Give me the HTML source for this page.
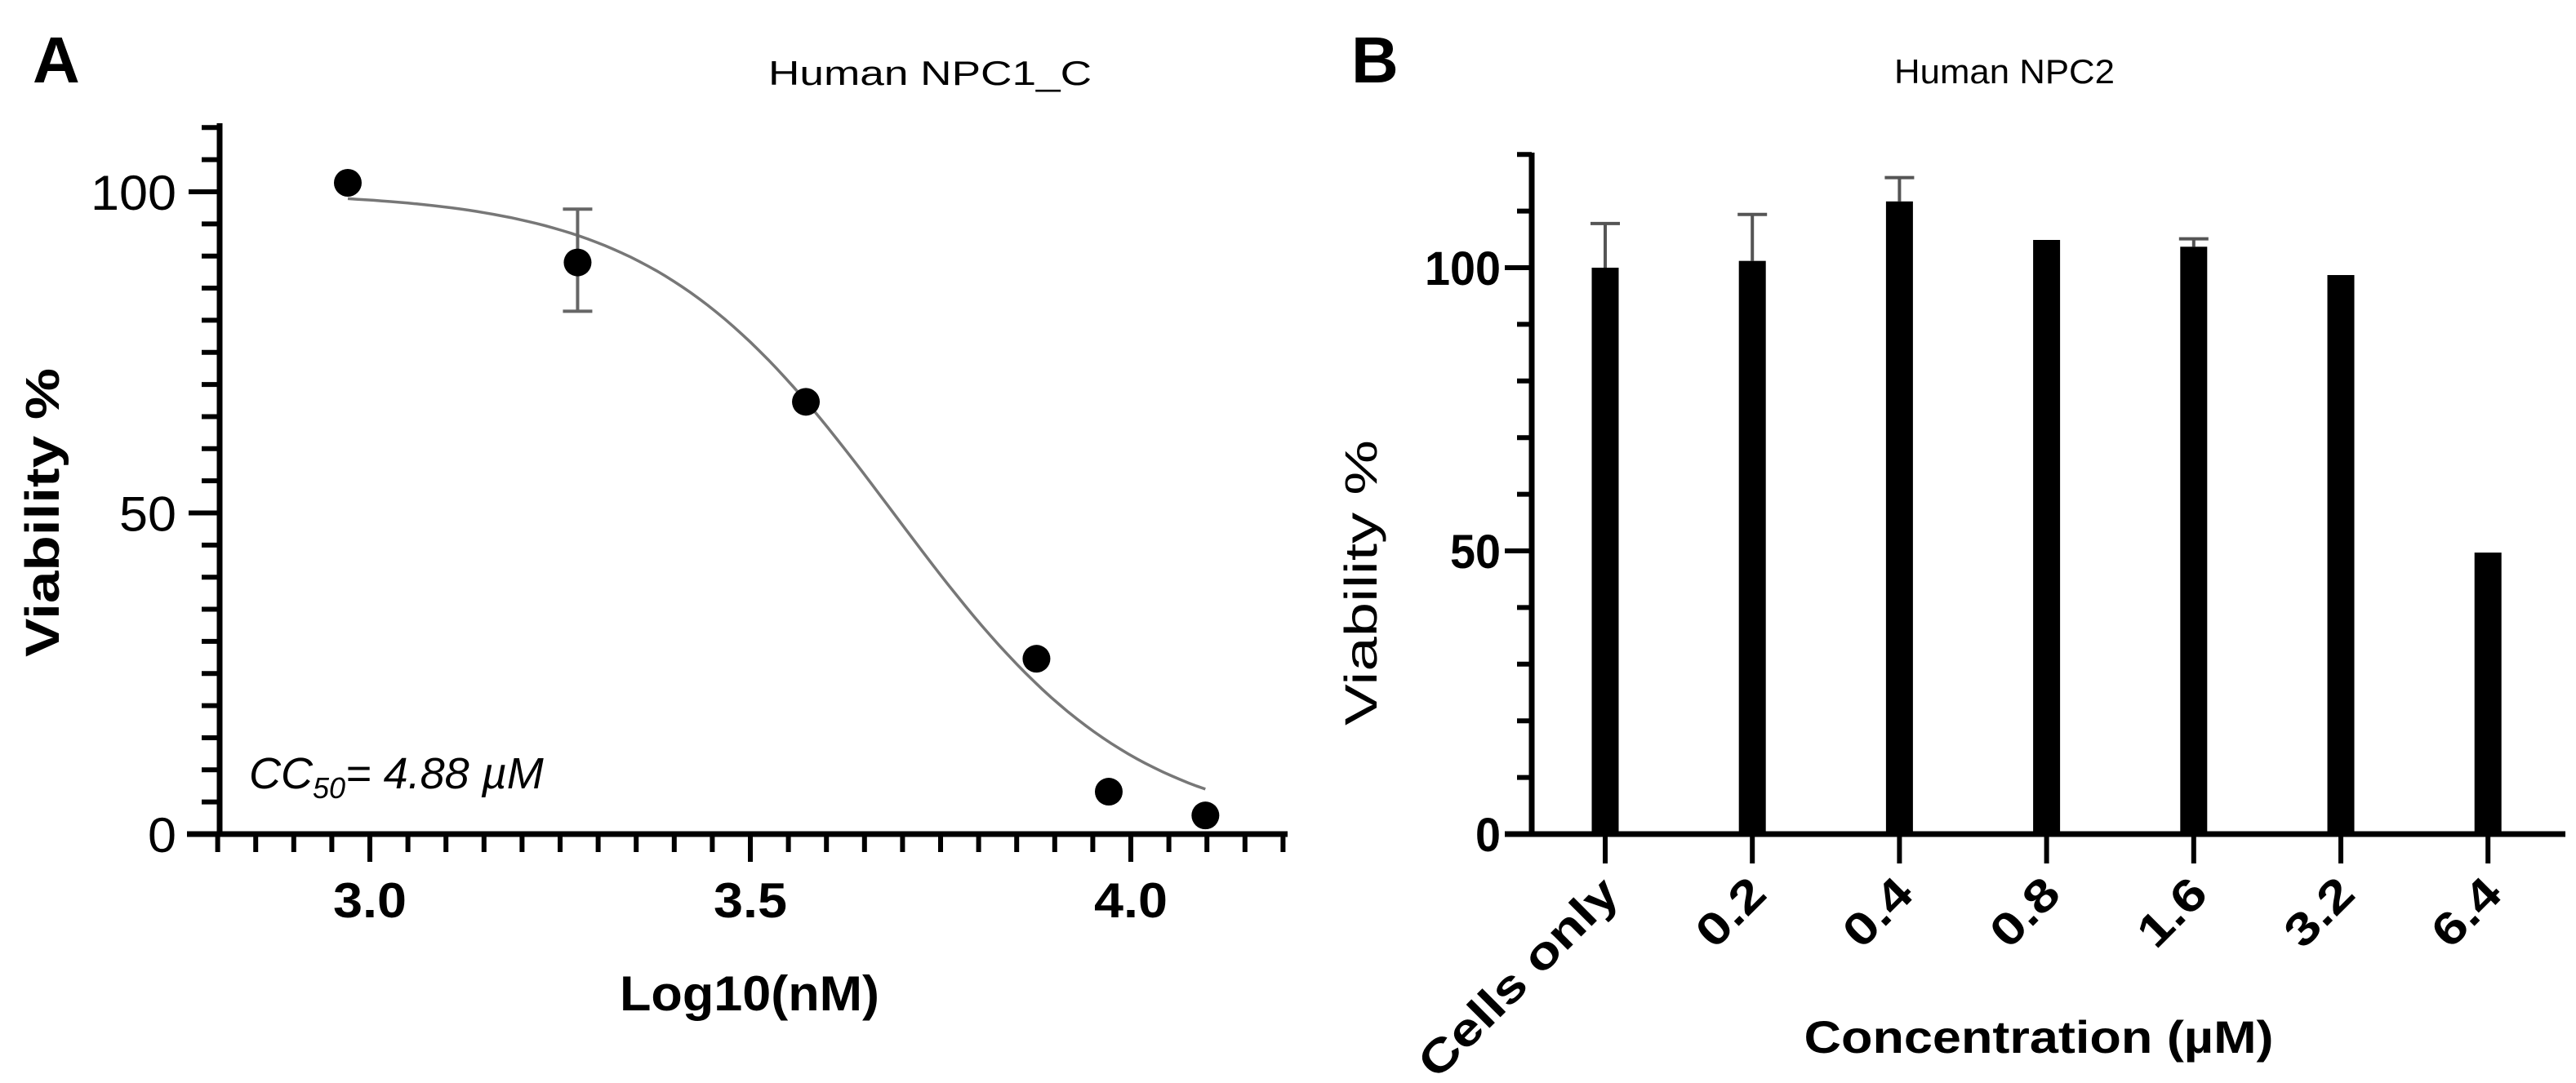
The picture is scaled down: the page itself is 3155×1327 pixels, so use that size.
<!DOCTYPE html>
<html><head><meta charset="utf-8"><style>
html,body{margin:0;padding:0;background:#fff;overflow:hidden}
svg{display:block}
text{font-family:"Liberation Sans",Arial,sans-serif;fill:#000}
</style></head><body>
<svg id="fig" width="3155" height="1327" viewBox="0 0 3155 1327" xmlns="http://www.w3.org/2000/svg">
<g id="panelA"></g>
<g id="panelB"></g>
</svg>
<script>
// Panel A data
const aX = [2.971, 3.273, 3.573, 3.876, 3.971, 4.098];
const aY = [101.4, 89.0, 67.3, 27.3, 6.6, 2.9];
const aErrLo = [null, 81.4, null, null, null, null];
const aErrHi = [null, 97.3, null, null, null, null];
const aXTicks = [3.0, 3.5, 4.0];
const aXTickLabels = ["3.0", "3.5", "4.0"];
const aYTicks = [0, 50, 100];
const aYTickLabels = ["0", "50", "100"];
const fitTop = 100, fitBottom = 0, fitLogIC50 = 3.688, fitHill = 2.74;
// Panel B data
const bCats = ["Cells only", "0.2", "0.4", "0.8", "1.6", "3.2", "6.4"];
const bVals = [100.0, 101.2, 111.7, 104.9, 103.7, 98.7, 49.7];
const bErrHi = [107.8, 109.4, 115.9, null, 105.1, null, null];
const bYTicks = [0, 50, 100];
const bYTickLabels = ["0", "50", "100"];

const NS = "http://www.w3.org/2000/svg";
function mk(parent, tag, attrs, txt) {
  const e = document.createElementNS(NS, tag);
  for (const k in attrs) e.setAttribute(k, attrs[k]);
  if (txt !== undefined) e.textContent = txt;
  parent.appendChild(e);
  return e;
}

// ---------- Panel A ----------
const A = document.getElementById('panelA');
const ax = v => 453 + (v - 3.0) * 932;
const ay = v => 1022 - v * 7.87;
let t;
t = mk(A, 'text', {x: 40, y: 101, 'font-size': 80, 'font-weight': 'bold'}, 'A');


t = mk(A, 'text', {x: 1139, y: 104, 'font-size': 42, 'text-anchor': 'middle', textLength: 396, lengthAdjust: 'spacingAndGlyphs'}, 'Human NPC1_C');


t = mk(A, 'line', {x1: 269, y1: 151, x2: 269, y2: 1025, stroke: '#000', 'stroke-width': 7});


t = mk(A, 'line', {x1: 229, y1: 1022, x2: 1577, y2: 1022, stroke: '#000', 'stroke-width': 7});


for (let v = 0; v <= 110.01; v += 5) {
  const major = Math.abs(v % 50) < 0.01;
  t = mk(A, 'line', {x1: major ? 231 : 247, y1: ay(v), x2: 269, y2: ay(v), stroke: '#000', 'stroke-width': 6});
  
  
}
for (let i = 0; i <= 28; i++) {
  const v = 2.8 + i * 0.05;
  if (v > 4.21) break;
  const major = aXTicks.some(m => Math.abs(m - v) < 0.001);
  t = mk(A, 'line', {x1: ax(v), y1: 1022, x2: ax(v), y2: major ? 1056 : 1044, stroke: '#000', 'stroke-width': 6});
  
  
}
aYTicks.forEach((v, i) => {
  const lab = aYTickLabels[i];
  t = mk(A, 'text', {x: 216, y: ay(v) + 22, 'font-size': 60, 'text-anchor': 'end', textLength: lab.length * 35, lengthAdjust: 'spacingAndGlyphs'}, lab);
  
  
});
aXTicks.forEach((v, i) => {
  t = mk(A, 'text', {x: ax(v), y: 1124, 'font-size': 60, 'font-weight': 'bold', 'text-anchor': 'middle', textLength: 90, lengthAdjust: 'spacingAndGlyphs'}, aXTickLabels[i]);
  
  
});
t = mk(A, 'text', {x: 0, y: 0, 'font-size': 58, 'font-weight': 'bold', 'text-anchor': 'middle', textLength: 354, lengthAdjust: 'spacingAndGlyphs', transform: 'translate(72,628) rotate(-90)'}, 'Viability %');


t = mk(A, 'text', {x: 918, y: 1238, 'font-size': 60, 'font-weight': 'bold', 'text-anchor': 'middle', textLength: 318, lengthAdjust: 'spacingAndGlyphs'}, 'Log10(nM)');


let d = '';
for (let i = 0; i <= 100; i++) {
  const xv = aX[0] + (aX[aX.length - 1] - aX[0]) * i / 100;
  const yv = fitBottom + (fitTop - fitBottom) / (1 + Math.pow(10, fitHill * (xv - fitLogIC50)));
  d += (i ? 'L' : 'M') + ax(xv).toFixed(1) + ',' + ay(yv).toFixed(1);
}
t = mk(A, 'path', {d: d, fill: 'none', stroke: '#777', 'stroke-width': 3.5});


aX.forEach((xv, i) => {
  if (aErrLo[i] !== null) {
    const g = mk(A, 'g', {stroke: '#666', 'stroke-width': 4});
    
    
    mk(g, 'line', {x1: ax(xv), y1: ay(aErrHi[i]), x2: ax(xv), y2: ay(aErrLo[i])});
    mk(g, 'line', {x1: ax(xv) - 18, y1: ay(aErrHi[i]), x2: ax(xv) + 18, y2: ay(aErrHi[i])});
    mk(g, 'line', {x1: ax(xv) - 18, y1: ay(aErrLo[i]), x2: ax(xv) + 18, y2: ay(aErrLo[i])});
  }
  t = mk(A, 'circle', {cx: ax(xv), cy: ay(aY[i]), r: 17, fill: '#000'});
  
  
});
const cc = mk(A, 'text', {x: 305, y: 966, 'font-size': 54, 'font-style': 'italic'});


mk(cc, 'tspan', {}, 'CC');
mk(cc, 'tspan', {'font-size': 36, dy: 12}, '50');
mk(cc, 'tspan', {dy: -12}, '= 4.88 µM');

// ---------- Panel B ----------
const B = document.getElementById('panelB');
const bx = i => 1966 + i * 180.2;
const by = v => 1022 - v * 6.94;
t = mk(B, 'text', {x: 1655, y: 101, 'font-size': 80, 'font-weight': 'bold'}, 'B');


t = mk(B, 'text', {x: 2455, y: 102, 'font-size': 42, 'text-anchor': 'middle', textLength: 270, lengthAdjust: 'spacingAndGlyphs'}, 'Human NPC2');


t = mk(B, 'line', {x1: 1876, y1: 187, x2: 1876, y2: 1025, stroke: '#000', 'stroke-width': 7});


t = mk(B, 'line', {x1: 1843, y1: 1022, x2: 3142, y2: 1022, stroke: '#000', 'stroke-width': 7});


for (let v = 0; v <= 120.01; v += 10) {
  const major = Math.abs(v % 50) < 0.01;
  t = mk(B, 'line', {x1: major ? 1843 : 1858, y1: by(v), x2: 1876, y2: by(v), stroke: '#000', 'stroke-width': 6});
  
  
}
bYTicks.forEach((v, i) => {
  const lab = bYTickLabels[i];
  t = mk(B, 'text', {x: 1838, y: by(v) + 21, 'font-size': 58, 'font-weight': 'bold', 'text-anchor': 'end', textLength: lab.length * 31, lengthAdjust: 'spacingAndGlyphs'}, lab);
  
  
});
bCats.forEach((c, i) => {
  const cx = bx(i);
  if (bErrHi[i] !== null) {
    const g = mk(B, 'g', {stroke: '#555', 'stroke-width': 4});
    
    
    mk(g, 'line', {x1: cx, y1: by(bErrHi[i]), x2: cx, y2: by(bVals[i])});
    mk(g, 'line', {x1: cx - 18, y1: by(bErrHi[i]), x2: cx + 18, y2: by(bErrHi[i])});
  }
  t = mk(B, 'rect', {x: cx - 16.5, y: by(bVals[i]), width: 33, height: by(0) - by(bVals[i]), fill: '#000'});
  
  
  t = mk(B, 'line', {x1: cx, y1: 1022, x2: cx, y2: 1058, stroke: '#000', 'stroke-width': 6});
  
  
  const len = c.length === 3 ? 94 : 320;
  t = mk(B, 'text', {x: 0, y: 0, 'font-size': 56, 'font-weight': 'bold', 'text-anchor': 'end', textLength: len, lengthAdjust: 'spacingAndGlyphs', transform: 'translate(' + (cx + 20) + ',1098) rotate(-45)'}, c);
  
  
});
t = mk(B, 'text', {x: 0, y: 0, 'font-size': 56, 'text-anchor': 'middle', textLength: 350, lengthAdjust: 'spacingAndGlyphs', transform: 'translate(1686,714) rotate(-90)'}, 'Viability %');


t = mk(B, 'text', {x: 2497, y: 1290, 'font-size': 56, 'font-weight': 'bold', 'text-anchor': 'middle', textLength: 575, lengthAdjust: 'spacingAndGlyphs'}, 'Concentration (µM)');


</script>
</body></html>
